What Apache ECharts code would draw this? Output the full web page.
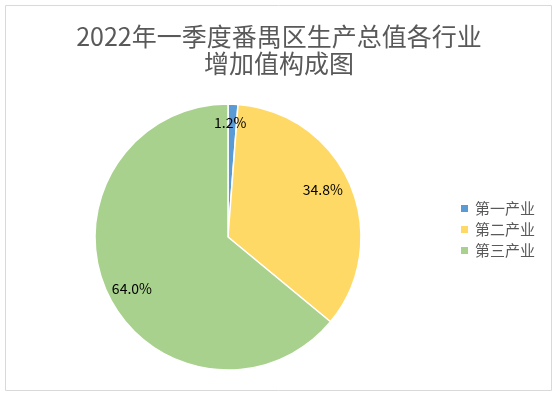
<!DOCTYPE html>
<html>
<head>
<meta charset="utf-8">
<script src="https://cdn.jsdelivr.net/npm/echarts@6/dist/echarts.min.js"></script>
<style>
  html, body { margin: 0; padding: 0; background: #fff; }
  #chart { width: 558px; height: 398px; }
</style>
</head>
<body>
<div id="chart"></div>
<script>
  // 数据
  const categories = ['第一产业', '第二产业', '第三产业'];
  const shares = [1.2, 34.8, 64.0];
  const colors = ['#5b9bd5', '#ffd966', '#a9d18e'];
  // 标签微调（像素）
  const labelOffsets = [[-2, -5], [-6, -4], [3, 5]];

  const font = '"Noto Sans CJK SC", "Noto Sans", sans-serif';
  const chart = echarts.init(document.getElementById('chart'));

  chart.setOption({
    animation: false,
    color: colors,
    title: {
      text: '2022年一季度番禺区生产总值各行业\n增加值构成图',
      left: 'center',
      top: 18,
      textStyle: {
        fontFamily: font,
        fontSize: 25,
        fontWeight: 'normal',
        color: '#595959',
        lineHeight: 27
      }
    },
    legend: {
      orient: 'vertical',
      left: 454,
      top: 196,
      itemWidth: 9,
      itemHeight: 9,
      itemGap: 6,
      icon: 'rect',
      data: categories,
      textStyle: { fontFamily: font, fontSize: 15, color: '#595959', padding: [0, 0, 0, 1] }
    },
    graphic: [{
      type: 'rect',
      shape: { x: 5.5, y: 5.5, width: 546, height: 385 },
      style: { fill: 'none', stroke: '#d9d9d9', lineWidth: 1 },
      silent: true
    }],
    series: [
      {
        type: 'pie',
        center: [228, 237],
        radius: [0, 133],
        startAngle: 90,
        clockwise: true,
        label: { show: false },
        labelLine: { show: false },
        itemStyle: { borderColor: '#fff', borderWidth: 1.5 },
        data: categories.map((c, i) => ({ name: c, value: shares[i] }))
      },
      {
        // 只放数据标签
        type: 'pie',
        center: [228, 237],
        radius: [80, 133],
        startAngle: 90,
        silent: true,
        legendHoverLink: false,
        itemStyle: { color: 'transparent' },
        labelLine: { show: false },
        label: {
          show: true,
          position: 'inside',
          fontFamily: font,
          fontSize: 14,
          color: '#000',
          formatter: p => p.value.toFixed(1) + '%'
        },
        data: categories.map((c, i) => ({
          name: c + ' ',
          value: shares[i],
          label: { offset: labelOffsets[i] }
        }))
      }
    ]
  });
</script>
</body>
</html>
